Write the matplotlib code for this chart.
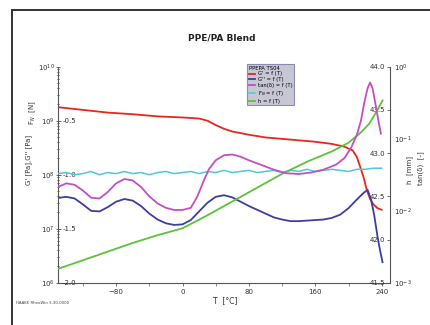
import matplotlib
matplotlib.use("Agg")
import matplotlib.pyplot as plt
from matplotlib.patches import Rectangle
from matplotlib.ticker import FixedLocator, FormatStrFormatter, LogLocator, NullFormatter

plt.rcParams['font.family'] = ['DejaVu Sans']

# ---------------- data ----------------
T_gp = [-150, -120, -90, -60, -30, 0, 20, 30, 40, 50, 60, 80, 100, 130, 160, 180, 195,
        205, 210, 214, 218, 222, 226, 230, 235, 240]
log_gp = [9.25, 9.20, 9.15, 9.12, 9.08, 9.06, 9.04, 9.00, 8.92, 8.85, 8.80, 8.74, 8.69,
          8.65, 8.61, 8.57, 8.52, 8.45, 8.33, 8.15, 7.96, 7.72, 7.55, 7.45, 7.38, 7.35]

T_gpp = [-150, -140, -130, -120, -110, -100, -90, -80, -70, -60, -50, -40, -30, -20, -10,
         0, 10, 20, 30, 40, 50, 60, 70, 80, 90, 100, 110, 120, 130, 140, 150, 160, 170,
         180, 190, 200, 210, 218, 223, 227, 231, 235, 238, 241]
log_gpp = [7.57, 7.59, 7.56, 7.45, 7.33, 7.32, 7.40, 7.50, 7.55, 7.52, 7.42, 7.28, 7.17,
           7.10, 7.07, 7.08, 7.16, 7.32, 7.48, 7.59, 7.62, 7.58, 7.50, 7.42, 7.35, 7.28,
           7.21, 7.17, 7.14, 7.14, 7.15, 7.16, 7.17, 7.20, 7.26, 7.38, 7.54, 7.66, 7.72,
           7.55, 7.25, 6.85, 6.60, 6.38]

T_tan = [-150, -140, -130, -120, -110, -100, -90, -80, -70, -60, -50, -40, -30, -20, -10,
         0, 10, 18, 25, 32, 40, 50, 60, 70, 80, 94, 110, 125, 140, 155, 170, 185, 195,
         203, 210, 215, 219, 223, 226, 229, 233, 236, 239]
log_tan = [-1.67, -1.62, -1.64, -1.72, -1.82, -1.83, -1.74, -1.62, -1.56, -1.58, -1.67,
           -1.80, -1.90, -1.96, -1.99, -1.99, -1.96, -1.80, -1.60, -1.42, -1.30, -1.23,
           -1.22, -1.25, -1.30, -1.36, -1.43, -1.48, -1.49, -1.47, -1.43, -1.36, -1.27,
           -1.13, -0.95, -0.75, -0.50, -0.30, -0.22, -0.30, -0.55, -0.75, -0.93]

T_fn = [-150, -140, -130, -120, -110, -100, -90, -80, -70, -60, -50, -40, -30, -20, -10,
        0, 10, 20, 30, 40, 50, 60, 70, 80, 90, 100, 110, 120, 130, 140, 150, 160, 170,
        180, 190, 200, 210, 220, 230, 240]
fn = [-0.99, -0.98, -1.00, -0.99, -0.97, -1.00, -0.98, -0.99, -0.97, -0.99, -0.98, -1.00,
      -0.98, -0.97, -0.99, -0.98, -0.97, -0.99, -0.97, -0.98, -0.96, -0.98, -0.97, -0.96,
      -0.98, -0.97, -0.96, -0.98, -0.96, -0.97, -0.95, -0.97, -0.96, -0.95, -0.96, -0.97,
      -0.95, -0.95, -0.94, -0.94]

T_h = [-150, -120, -90, -60, -30, 0, 30, 60, 90, 120, 150, 180, 200, 215, 225, 235, 241]
h = [41.66, 41.76, 41.86, 41.96, 42.05, 42.13, 42.28, 42.44, 42.60, 42.76, 42.90, 43.02,
     43.12, 43.24, 43.34, 43.50, 43.61]

x_ticks = [-80, 0, 80, 160, 240]
fn_ticks = [-2.0, -1.5, -1.0, -0.5]
h_ticks = [41.5, 42.0, 42.5, 43.0, 43.5, 44.0]

labels = ["G' = f (T)", "G'' = f (T)", "tan(\u03b4) = f (T)", "F$_N$ = f (T)", "h = f (T)"]
colors = ['#e8261c', '#3c3ea0', '#c24fc4', '#4fc8d8', '#5cc23a']

# ---------------- figure ----------------
fig = plt.figure(figsize=(4.3, 3.25), dpi=100)
fig.patches.append(Rectangle((12/430, -0.05), 1.1, 1-10/325 + 0.05,
                             transform=fig.transFigure, fill=False, lw=1.4,
                             edgecolor='#333333'))

ax = fig.add_axes([58/430, 1-282.7/325, (390-58)/430, (282.7-66.7)/325])
fs = 5
ax.set_xlim(-150, 250)
ax.set_yscale('log')
ax.set_ylim(1e6, 1e10)
ax.spines['top'].set_visible(False)
ax.spines['right'].set_visible(False)
for s in ['left', 'bottom']:
    ax.spines[s].set_color('#555555')
    ax.spines[s].set_linewidth(0.8)
ax.xaxis.set_major_locator(FixedLocator(x_ticks))
ax.xaxis.set_minor_locator(FixedLocator([-120, -40, 40, 120, 200]))
ax.tick_params(axis='x', labelsize=fs, length=2.5, width=0.6, colors='#555555',
               labelcolor='#333333', pad=2)
ax.tick_params(axis='x', which='minor', length=2, width=0.6, colors='#777777')
ax.yaxis.set_major_locator(LogLocator(base=10, numticks=10))
ax.yaxis.set_minor_locator(LogLocator(base=10, subs=range(2, 10), numticks=10))
ax.yaxis.set_minor_formatter(NullFormatter())
ax.tick_params(axis='y', labelsize=fs, length=2.5, width=0.6, direction='inout',
               colors='#555555', labelcolor='#333333', pad=1)
ax.tick_params(axis='y', which='minor', length=1.5, width=0.5, direction='inout')

l1, = ax.plot(T_gp, [10**v for v in log_gp], color=colors[0], lw=1.3)
l2, = ax.plot(T_gpp, [10**v for v in log_gpp], color=colors[1], lw=1.3)

axF = ax.twinx()
for s in ['top', 'left', 'bottom']:
    axF.spines[s].set_visible(False)
axF.spines['right'].set_position(('axes', 0))
axF.spines['right'].set_visible(False)
axF.set_ylim(-2.0, 0.0)
axF.yaxis.set_major_locator(FixedLocator(fn_ticks))
axF.yaxis.set_major_formatter(FormatStrFormatter('%.1f'))
axF.tick_params(axis='y', labelsize=fs, length=2, width=0.6, colors='#555555',
                labelcolor='#333333', pad=1)
l4, = axF.plot(T_fn, fn, color=colors[3], lw=1.1)

axH = ax.twinx()
for s in ['top', 'right', 'bottom']:
    axH.spines[s].set_visible(False)
axH.spines['left'].set_position(('axes', 1))
axH.spines['left'].set_color('#555555')
axH.spines['left'].set_linewidth(0.8)
axH.yaxis.set_ticks_position('left')
axH.set_ylim(41.5, 44.0)
axH.yaxis.set_major_locator(FixedLocator(h_ticks))
axH.yaxis.set_major_formatter(FormatStrFormatter('%.1f'))
axH.tick_params(axis='y', labelsize=fs, length=2.5, width=0.6, colors='#555555',
                labelcolor='#333333', pad=1)
l5, = axH.plot(T_h, h, color=colors[4], lw=1.3)

axT = ax.twinx()
for s in ['top', 'left', 'bottom', 'right']:
    axT.spines[s].set_visible(False)
axT.set_yscale('log')
axT.set_ylim(1e-3, 1e0)
axT.yaxis.set_major_locator(LogLocator(base=10, numticks=10))
axT.yaxis.set_minor_formatter(NullFormatter())
axT.tick_params(axis='y', labelsize=fs, length=0, colors='#555555',
                labelcolor='#333333', pad=3)
axT.tick_params(axis='y', which='minor', length=0)
l3, = axT.plot(T_tan, [10**v for v in log_tan], color=colors[2], lw=1.3)

# titles and labels
fig.text(222/430, 1-38/325, 'PPE/PA Blend', ha='center', va='center', fontsize=6.5,
         fontweight='bold', color='#222222')
fig.text(225/430, 1-301/325, 'T  [\u00b0C]', ha='center', va='center', fontsize=5.5,
         color='#333333')
fig.text(29/430, 1-160/325, "G' [Pa],G'' [Pa]", rotation=90, ha='center', va='center',
         fontsize=5, color='#333333')
fig.text(33/430, 1-113/325, "F$_N$  [N]", rotation=90, ha='center', va='center',
         fontsize=5, color='#333333')
fig.text(410/430, 1-170/325, "h  [mm]", rotation=90, ha='center', va='center',
         fontsize=5, color='#333333')
fig.text(421/430, 1-168/325, "tan(\u03b4)  [-]", rotation=90, ha='center', va='center',
         fontsize=5, color='#333333')
fig.text(16/430, 1-303/325, 'HAAKE RheoWin 3.30.0000', ha='left', va='center',
         fontsize=2.8, color='#444444')

leg = fig.legend([l1, l2, l3, l4, l5], labels, loc='upper left',
                 bbox_to_anchor=(247/430, 1-64/325), fontsize=3.8,
                 title='PPEPA TS04', title_fontsize=3.8, frameon=True,
                 facecolor='#c6c6d4', edgecolor='#8c8cb0', fancybox=False,
                 framealpha=1, handlelength=1.3, borderpad=0.3, labelspacing=0.15,
                 handletextpad=0.5, borderaxespad=0, alignment='left')
leg.get_frame().set_linewidth(0.8)

fig.savefig('out.png', dpi=100)
